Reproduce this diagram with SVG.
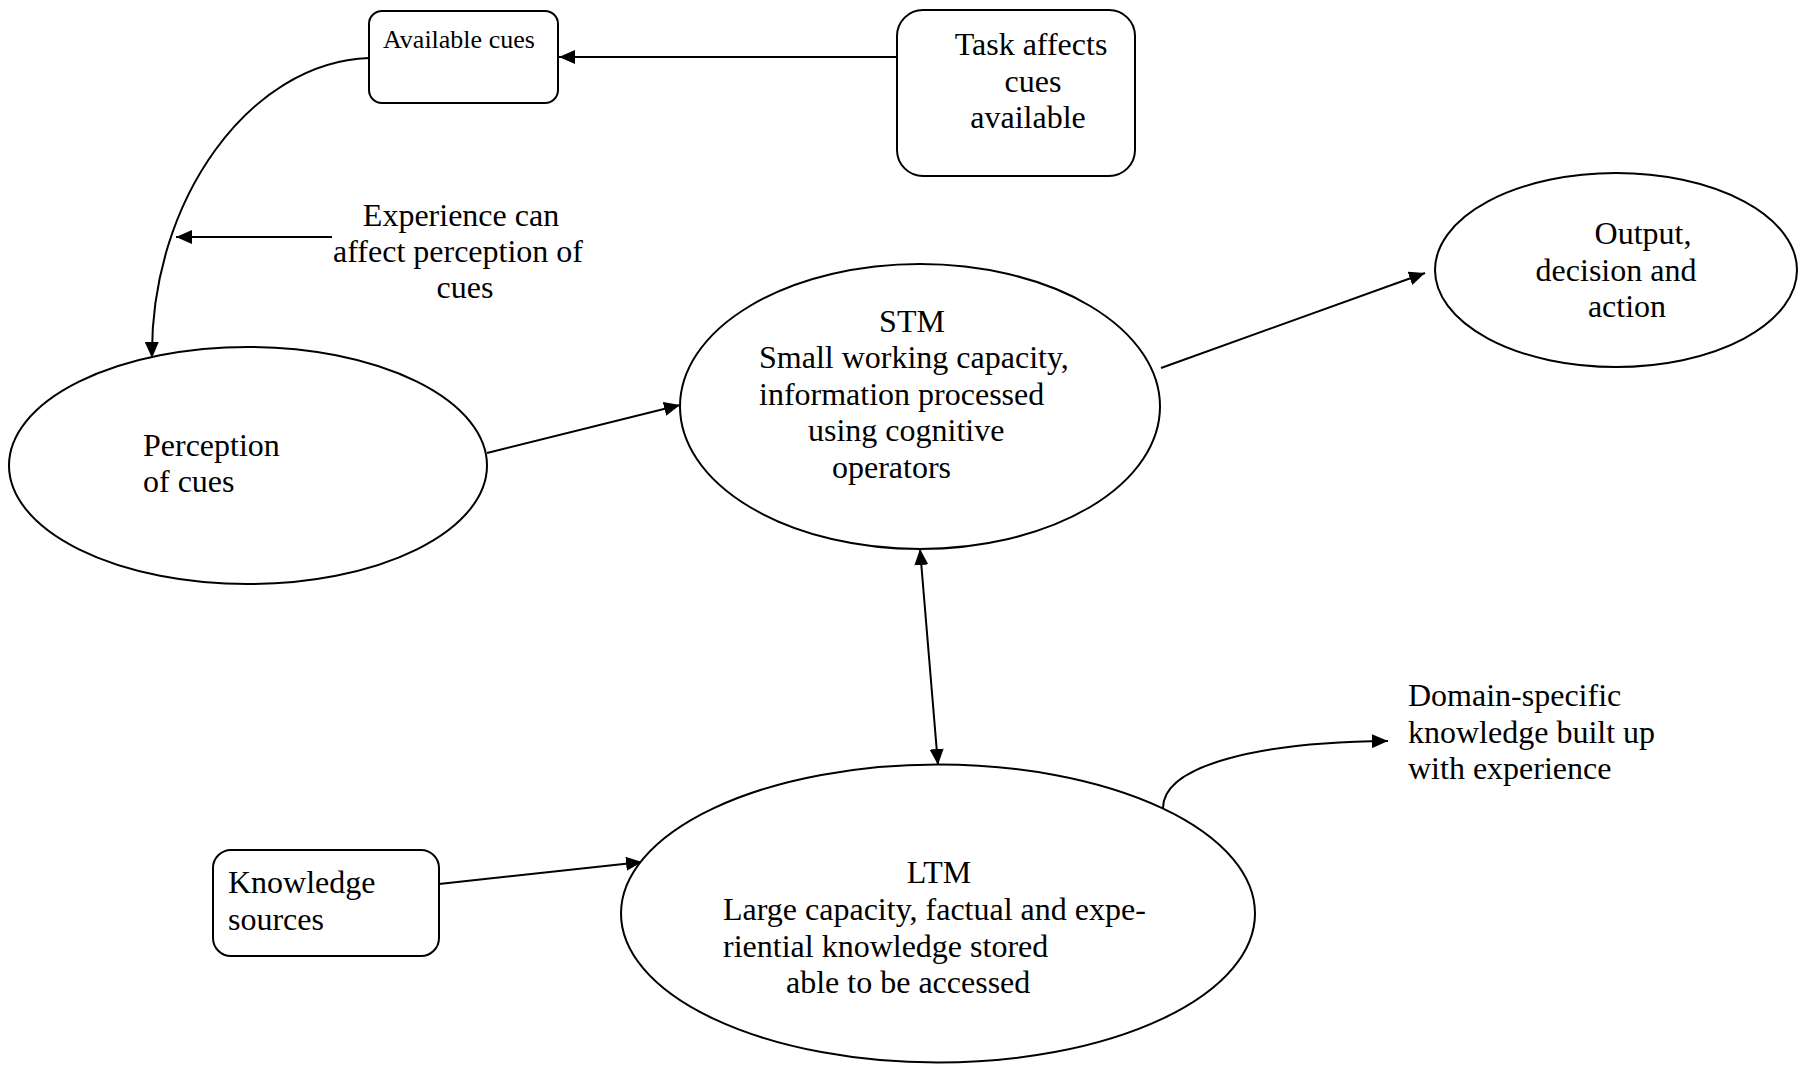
<svg xmlns="http://www.w3.org/2000/svg" width="1802" height="1067" viewBox="0 0 1802 1067">
<style>
  .shape { fill: #ffffff; stroke: #000000; stroke-width: 2; }
  .conn { fill: none; stroke: #000000; stroke-width: 2; }
  text { font-family: "Liberation Serif", "Times New Roman", serif; font-size: 32px; fill: #000000; }
  .small { font-size: 26px; }
  .mid { text-anchor: middle; }
</style>
<defs>
  <marker id="arrow" viewBox="0 0 16 14" refX="16" refY="7" markerWidth="16" markerHeight="14" markerUnits="userSpaceOnUse" orient="auto-start-reverse">
    <path d="M0,0 L16,7 L0,14 Z" fill="#000000"/>
  </marker>
</defs>
<rect width="1802" height="1067" fill="#ffffff"/>

<g id="connectors">
  <line class="conn" x1="897" y1="57" x2="559" y2="57" marker-end="url(#arrow)"/>
  <path class="conn" d="M369,58 C250,62 150,200 152,358" marker-end="url(#arrow)"/>
  <line class="conn" x1="332" y1="237" x2="176" y2="237" marker-end="url(#arrow)"/>
  <line class="conn" x1="487" y1="453" x2="680" y2="405" marker-end="url(#arrow)"/>
  <line class="conn" x1="1161" y1="368" x2="1425" y2="273" marker-end="url(#arrow)"/>
  <line class="conn" x1="920" y1="549" x2="938" y2="765" marker-start="url(#arrow)" marker-end="url(#arrow)"/>
  <line class="conn" x1="439" y1="884" x2="642" y2="862" marker-end="url(#arrow)"/>
  <path class="conn" d="M1163,808 C1163,765 1260,742 1388,741" marker-end="url(#arrow)"/>
</g>

<g id="available-cues">
  <rect class="shape" x="369" y="11" width="189" height="92" rx="13"/>
  <text class="small" x="383" y="48">Available cues</text>
</g>

<g id="task-affects">
  <rect class="shape" x="897" y="10" width="238" height="166" rx="26"/>
  <text class="mid" x="1031" y="55">Task affects</text>
  <text class="mid" x="1033" y="92">cues</text>
  <text class="mid" x="1028" y="128">available</text>
</g>

<g id="experience-label">
  <text class="mid" x="461" y="226">Experience can</text>
  <text class="mid" x="458" y="262">affect perception of</text>
  <text class="mid" x="465" y="298">cues</text>
</g>

<g id="perception">
  <ellipse class="shape" cx="248" cy="465.5" rx="239" ry="118.5"/>
  <text x="143" y="456">Perception</text>
  <text x="143" y="492">of cues</text>
</g>

<g id="stm">
  <ellipse class="shape" cx="920" cy="406.5" rx="240" ry="142.5"/>
  <text class="mid" x="912" y="332">STM</text>
  <text x="759" y="368">Small working capacity,</text>
  <text x="759" y="405">information processed</text>
  <text x="808" y="441">using cognitive</text>
  <text x="832" y="478">operators</text>
</g>

<g id="output">
  <ellipse class="shape" cx="1616" cy="270" rx="181" ry="97"/>
  <text class="mid" x="1643" y="244">Output,</text>
  <text class="mid" x="1616" y="281">decision and</text>
  <text class="mid" x="1627" y="317">action</text>
</g>

<g id="ltm">
  <ellipse class="shape" cx="938" cy="913.5" rx="317" ry="149"/>
  <text class="mid" x="939" y="883">LTM</text>
  <text x="723" y="920">Large capacity, factual and expe-</text>
  <text x="723" y="957">riential knowledge stored</text>
  <text x="786" y="993">able to be accessed</text>
</g>

<g id="knowledge-sources">
  <rect class="shape" x="213" y="850" width="226" height="106" rx="18"/>
  <text x="228" y="893">Knowledge</text>
  <text x="228" y="930">sources</text>
</g>

<g id="domain-label">
  <text x="1408" y="706">Domain-specific</text>
  <text x="1408" y="743">knowledge built up</text>
  <text x="1408" y="779">with experience</text>
</g>
</svg>
